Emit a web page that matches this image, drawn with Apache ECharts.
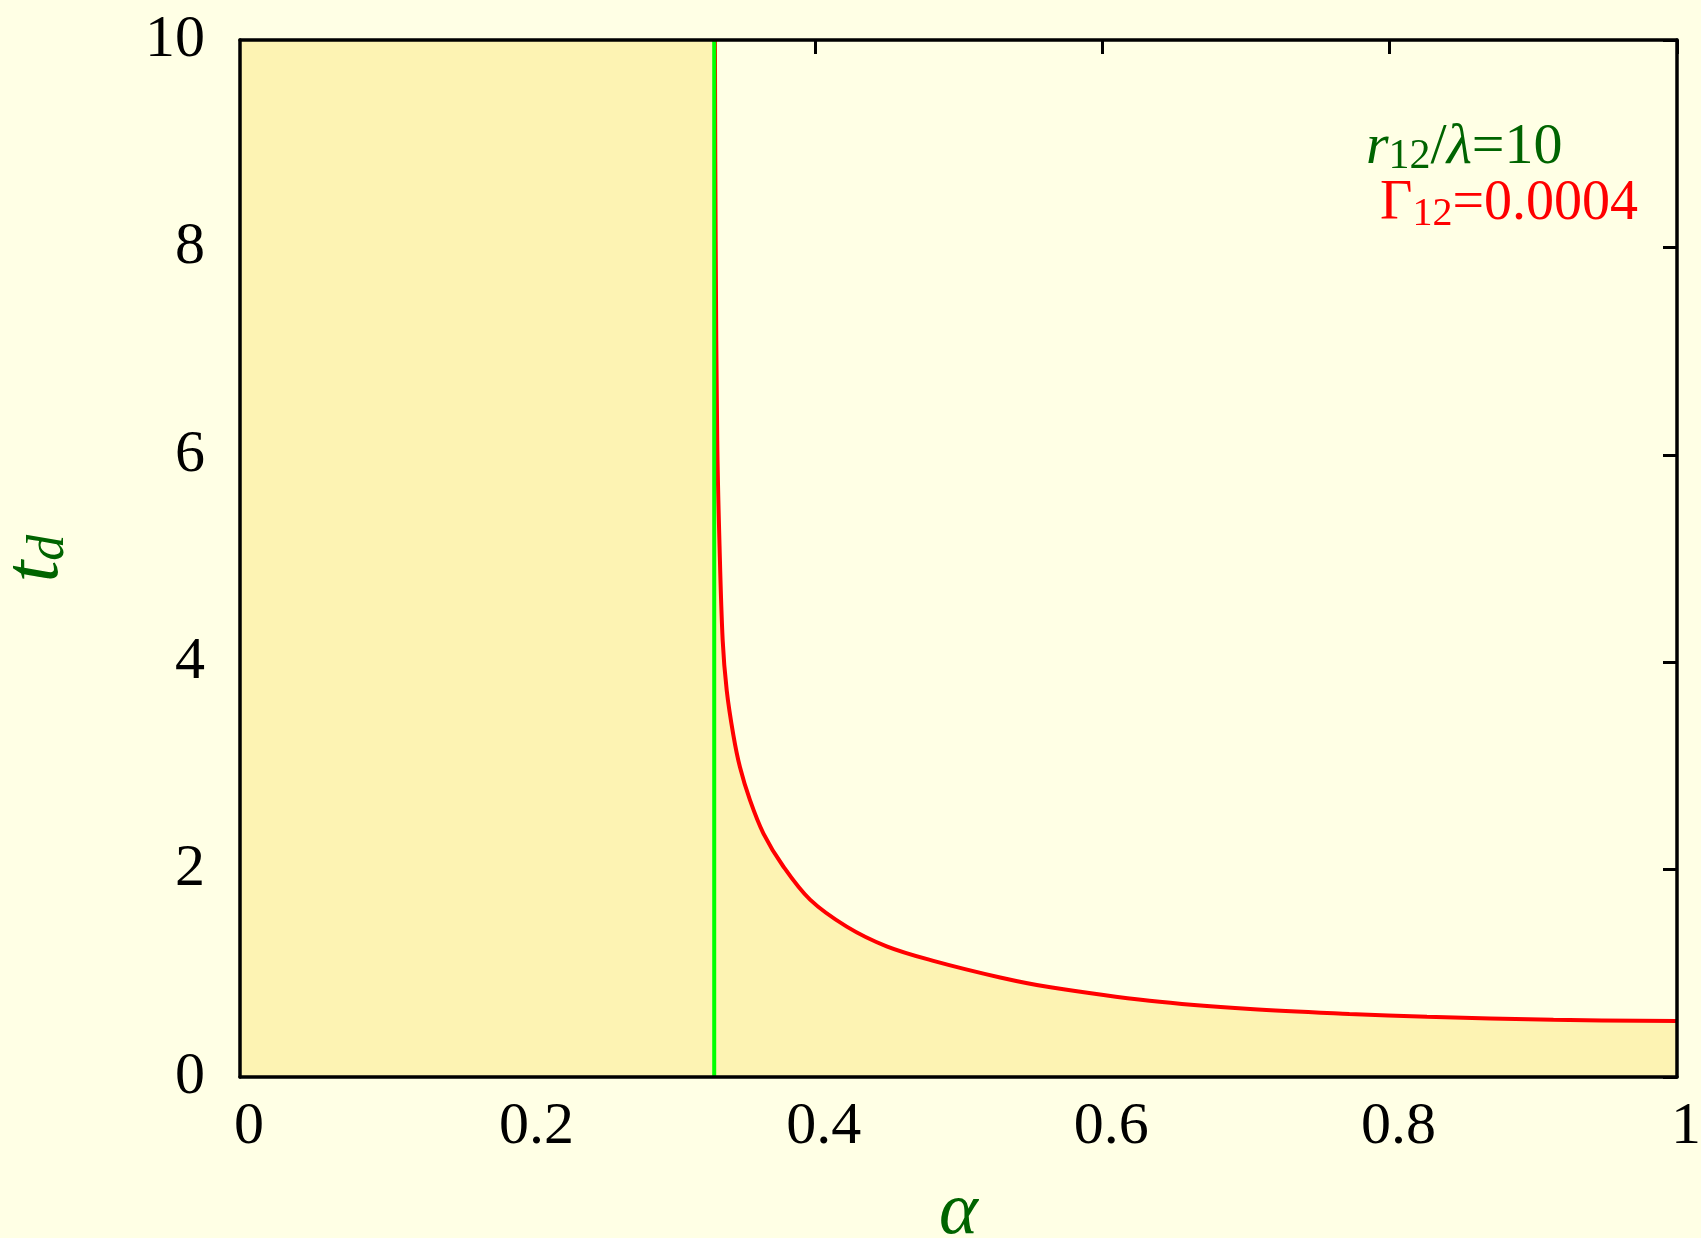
<!DOCTYPE html>
<html>
<head>
<meta charset="utf-8">
<script src="https://cdn.jsdelivr.net/npm/echarts@6/dist/echarts.min.js"></script>
<style>
html,body{margin:0;padding:0;background:#ffffe5;}
#main{width:1701px;height:1238px;}
</style>
</head>
<body>
<div id="main"></div>
<script>
// t_d curve (alpha, t_d)
var alpha = [0.3305, 0.3310, 0.3321, 0.3336, 0.3359, 0.3387, 0.3433, 0.3479, 0.3549, 0.3642,
             0.3781, 0.3967, 0.4222, 0.450, 0.4825, 0.529, 0.564, 0.633, 0.703, 0.772,
             0.826, 0.914, 1.0];
var td    = [10, 8.07, 6.14, 5.18, 4.21, 3.73, 3.30, 2.99, 2.67, 2.35,
             2.03, 1.71, 1.45, 1.26, 1.12, 0.96, 0.865, 0.735, 0.655, 0.608,
             0.582, 0.552, 0.54];
var alphaC = 0.33;   // green vertical line
var xTicks = [0, 0.2, 0.4, 0.6, 0.8, 1];
var yTicks = [0, 2, 4, 6, 8, 10];

var serif = 'Liberation Serif';
var dkgreen = '#006400';

var chart = echarts.init(document.getElementById('main'));

var curve = alpha.map(function(a, i){ return [a, td[i]]; });
var ymax = yTicks[yTicks.length - 1];
var shade = [[xTicks[0], ymax], [alphaC, ymax]].concat(curve);

var frame = {onZero:false, lineStyle:{color:'#000', width:3.5}};
var tick = {inside:true, length:14, lineStyle:{color:'#000', width:3}};

chart.setOption({
	animation:false,
	backgroundColor:'#ffffe5',
	grid:{left:240, right:24, top:40, bottom:161, outerBoundsMode:'none'},
	xAxis:[
		{
			type:'value', position:'bottom', min:xTicks[0], max:xTicks[xTicks.length-1], interval:0.2,
			z:5,
			axisLine:frame, axisTick:{show:false}, splitLine:{show:false},
			axisLabel:{fontFamily:serif, fontSize:60, color:'#000', margin:20, padding:[0,0,0,18]},
			name:'α', nameLocation:'middle', nameGap:100,
			nameTextStyle:{fontFamily:serif, fontStyle:'italic', fontSize:74, color:dkgreen}
		},
		{
			type:'value', position:'top', min:xTicks[0], max:xTicks[xTicks.length-1], interval:0.2,
			z:5,
			axisLine:frame, axisTick:{show:false}, axisLabel:{show:false}, splitLine:{show:false}
		},
		{
			type:'value', position:'top', min:xTicks[0], max:xTicks[xTicks.length-1], interval:0.2,
			z:0,
			axisLine:{show:false, onZero:false}, axisLabel:{show:false}, splitLine:{show:false},
			axisTick:tick
		}
	],
	yAxis:[
		{
			type:'value', position:'left', min:yTicks[0], max:ymax, interval:2,
			z:5,
			axisLine:frame, axisTick:{show:false}, splitLine:{show:false},
			axisLabel:{fontFamily:serif, fontSize:60, color:'#000', margin:35},
			name:'{t|t}{d|d}', nameLocation:'middle', nameGap:165, nameRotate:90,
			nameTextStyle:{
				rich:{
					t:{fontFamily:serif, fontStyle:'italic', fontSize:78, color:dkgreen, lineHeight:78},
					d:{fontFamily:serif, fontStyle:'italic', fontSize:52, color:dkgreen, lineHeight:52, verticalAlign:'bottom'}
				}
			}
		},
		{
			type:'value', position:'right', min:yTicks[0], max:ymax, interval:2,
			z:5,
			axisLine:frame, axisLabel:{show:false}, splitLine:{show:false},
			axisTick:tick
		}
	],
	series:[
		{
			name:'shade', type:'line', data:shade, symbol:'none', silent:true, z:1,
			lineStyle:{width:0, opacity:0},
			areaStyle:{color:'#fdf3b3', opacity:1}
		},
		{
			name:'td', type:'line', data:curve, symbol:'none', silent:true, z:3,
			smooth:0.35,
			lineStyle:{color:'#ff0000', width:4}
		},
		{
			name:'alphaC', type:'line', data:[[alphaC, yTicks[0]], [alphaC, ymax]], symbol:'none', silent:true, z:4,
			lineStyle:{color:'#00ff00', width:4}
		}
	],
	graphic:[
		{
			type:'text', left:1366, top:119, z:10,
			style:{
				text:'{i|r}{s|12}{n|/}{i|λ}{n|=10}',
				rich:{
					i:{fontFamily:serif, fontStyle:'italic', fontSize:58, fill:dkgreen, lineHeight:60},
					n:{fontFamily:serif, fontSize:58, fill:dkgreen, lineHeight:60},
					s:{fontFamily:serif, fontSize:42, fill:dkgreen, lineHeight:34, verticalAlign:'bottom'}
				}
			}
		},
		{
			type:'text', left:1380, top:176, z:10,
			style:{
				text:'{n|Γ}{s|12}{n|=0.0004}',
				rich:{
					n:{fontFamily:serif, fontSize:56, fill:'#ff0000', lineHeight:60},
					s:{fontFamily:serif, fontSize:40, fill:'#ff0000', lineHeight:34, verticalAlign:'bottom'}
				}
			}
		}
	]
});
</script>
</body>
</html>
